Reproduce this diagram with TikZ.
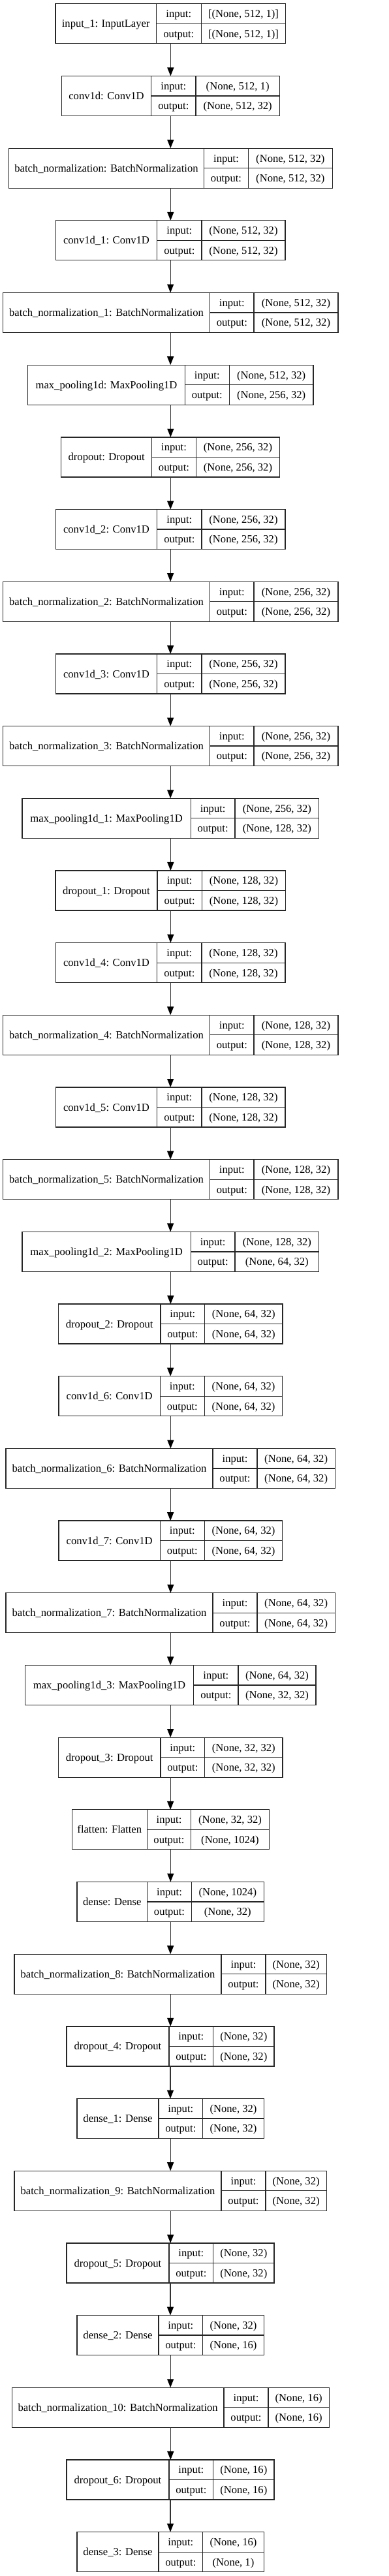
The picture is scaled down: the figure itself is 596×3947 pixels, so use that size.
\documentclass[tikz,border=0pt]{standalone}
\usepackage{fontspec}
\setmainfont{Liberation Serif}
\usetikzlibrary{arrows.meta}
\tikzset{
  kbox/.style={draw=black!85, line width=1.3pt, inner sep=0pt, outer sep=0pt, rectangle},
  kline/.style={draw=black!85, line width=1.3pt},
  ktext/.style={anchor=base, inner sep=0pt, text=black, font=\fontsize{16.6}{20}\selectfont},
  karrow/.style={draw=black!80, line width=1.3pt, -{Triangle[length=13pt,width=10pt,color=black]}}
}
\newcommand\klayer[9]{%
  \pgfmathsetmacro\kt{5.8+110.68*#2}%
  \pgfmathsetmacro\kb{\kt+61}%
  \pgfmathsetmacro\km{\kt+30.5}%
  \node[kbox, minimum width={(#6-#3)*1pt}, minimum height=61pt] (#1) at ({(#3+#6)/2},\km) {};
  \draw[kline] (#4,\kt) -- (#4,\kb) (#5,\kt) -- (#5,\kb) (#4,\km) -- (#6,\km);
  \node[ktext] at ({(#3+#4)/2},{\km+5.6}) {#7};
  \node[ktext] at ({(#4+#5)/2},{\kt+15.25+5.6}) {input:};
  \node[ktext] at ({(#4+#5)/2},{\km+15.25+5.6}) {output:};
  \node[ktext] at ({(#5+#6)/2},{\kt+15.25+5.6}) {#8};
  \node[ktext] at ({(#5+#6)/2},{\km+15.25+5.6}) {#9};
}
\begin{document}
\begin{tikzpicture}[x=1pt,y=-1pt]
\fill[white] (0,0) rectangle (596,3947);
\useasboundingbox (0,0) rectangle (596,3947);
\klayer{l0}{0}{85}{239.3}{308.3}{437.7}{input\_1: InputLayer}{[(None, 512, 1)]}{[(None, 512, 1)]}
\klayer{l1}{1}{94.3}{231.7}{300}{428.3}{conv1d: Conv1D}{(None, 512, 1)}{(None, 512, 32)}
\klayer{l2}{2}{13.3}{312.7}{380.3}{509.3}{batch\_normalization: BatchNormalization}{(None, 512, 32)}{(None, 512, 32)}
\klayer{l3}{3}{85.3}{240.7}{309}{437}{conv1d\_1: Conv1D}{(None, 512, 32)}{(None, 512, 32)}
\klayer{l4}{4}{4.3}{321.7}{389}{518}{batch\_normalization\_1: BatchNormalization}{(None, 512, 32)}{(None, 512, 32)}
\klayer{l5}{5}{42.7}{283.3}{351.3}{480}{max\_pooling1d: MaxPooling1D}{(None, 512, 32)}{(None, 256, 32)}
\klayer{l6}{6}{93.7}{232.7}{300.3}{428.7}{dropout: Dropout}{(None, 256, 32)}{(None, 256, 32)}
\klayer{l7}{7}{85.3}{240.7}{309}{437}{conv1d\_2: Conv1D}{(None, 256, 32)}{(None, 256, 32)}
\klayer{l8}{8}{4.3}{321.7}{389}{518}{batch\_normalization\_2: BatchNormalization}{(None, 256, 32)}{(None, 256, 32)}
\klayer{l9}{9}{85.3}{240.7}{309}{437}{conv1d\_3: Conv1D}{(None, 256, 32)}{(None, 256, 32)}
\klayer{l10}{10}{4.3}{321.7}{389}{518}{batch\_normalization\_3: BatchNormalization}{(None, 256, 32)}{(None, 256, 32)}
\klayer{l11}{11}{34}{292.3}{360}{488.7}{max\_pooling1d\_1: MaxPooling1D}{(None, 256, 32)}{(None, 128, 32)}
\klayer{l12}{12}{85}{241}{309.3}{437.7}{dropout\_1: Dropout}{(None, 128, 32)}{(None, 128, 32)}
\klayer{l13}{13}{85.3}{240.7}{309}{437}{conv1d\_4: Conv1D}{(None, 128, 32)}{(None, 128, 32)}
\klayer{l14}{14}{4.3}{321.7}{389}{518}{batch\_normalization\_4: BatchNormalization}{(None, 128, 32)}{(None, 128, 32)}
\klayer{l15}{15}{85.3}{240.7}{309}{437}{conv1d\_5: Conv1D}{(None, 128, 32)}{(None, 128, 32)}
\klayer{l16}{16}{4.3}{321.7}{389}{518}{batch\_normalization\_5: BatchNormalization}{(None, 128, 32)}{(None, 128, 32)}
\klayer{l17}{17}{34}{292.3}{360}{488.7}{max\_pooling1d\_2: MaxPooling1D}{(None, 128, 32)}{(None, 64, 32)}
\klayer{l18}{18}{89.3}{246}{313.7}{433}{dropout\_2: Dropout}{(None, 64, 32)}{(None, 64, 32)}
\klayer{l19}{19}{90}{245.3}{313.3}{432.7}{conv1d\_6: Conv1D}{(None, 64, 32)}{(None, 64, 32)}
\klayer{l20}{20}{9}{326}{394}{513.3}{batch\_normalization\_6: BatchNormalization}{(None, 64, 32)}{(None, 64, 32)}
\klayer{l21}{21}{90}{245.3}{313.3}{432.7}{conv1d\_7: Conv1D}{(None, 64, 32)}{(None, 64, 32)}
\klayer{l22}{22}{9}{326}{394}{513.3}{batch\_normalization\_7: BatchNormalization}{(None, 64, 32)}{(None, 64, 32)}
\klayer{l23}{23}{38.3}{296.7}{365}{484}{max\_pooling1d\_3: MaxPooling1D}{(None, 64, 32)}{(None, 32, 32)}
\klayer{l24}{24}{89.3}{246}{313.7}{433}{dropout\_3: Dropout}{(None, 32, 32)}{(None, 32, 32)}
\klayer{l25}{25}{110.3}{225.3}{292.7}{412.3}{flatten: Flatten}{(None, 32, 32)}{(None, 1024)}
\klayer{l26}{26}{118}{225.7}{293.3}{404.3}{dense: Dense}{(None, 1024)}{(None, 32)}
\klayer{l27}{27}{22}{339}{407}{500.3}{batch\_normalization\_8: BatchNormalization}{(None, 32)}{(None, 32)}
\klayer{l28}{28}{102}{259}{326.7}{420}{dropout\_4: Dropout}{(None, 32)}{(None, 32)}
\klayer{l29}{29}{118}{243}{310.7}{404.3}{dense\_1: Dense}{(None, 32)}{(None, 32)}
\klayer{l30}{30}{22}{339}{407}{500.3}{batch\_normalization\_9: BatchNormalization}{(None, 32)}{(None, 32)}
\klayer{l31}{31}{102}{259}{326.7}{420}{dropout\_5: Dropout}{(None, 32)}{(None, 32)}
\klayer{l32}{32}{118}{243}{310.7}{404.3}{dense\_2: Dense}{(None, 32)}{(None, 16)}
\klayer{l33}{33}{18.3}{343}{411}{504.3}{batch\_normalization\_10: BatchNormalization}{(None, 16)}{(None, 16)}
\klayer{l34}{34}{102}{259}{326.7}{420}{dropout\_6: Dropout}{(None, 16)}{(None, 16)}
\klayer{l35}{35}{118}{243}{310.7}{404.3}{dense\_3: Dense}{(None, 16)}{(None, 1)}
\foreach \i [evaluate=\i as \j using int(\i+1)] in {0,...,34}
  \draw[karrow] (l\i.south) -- (l\i.south |- l\j.north);
\end{tikzpicture}
\end{document}
